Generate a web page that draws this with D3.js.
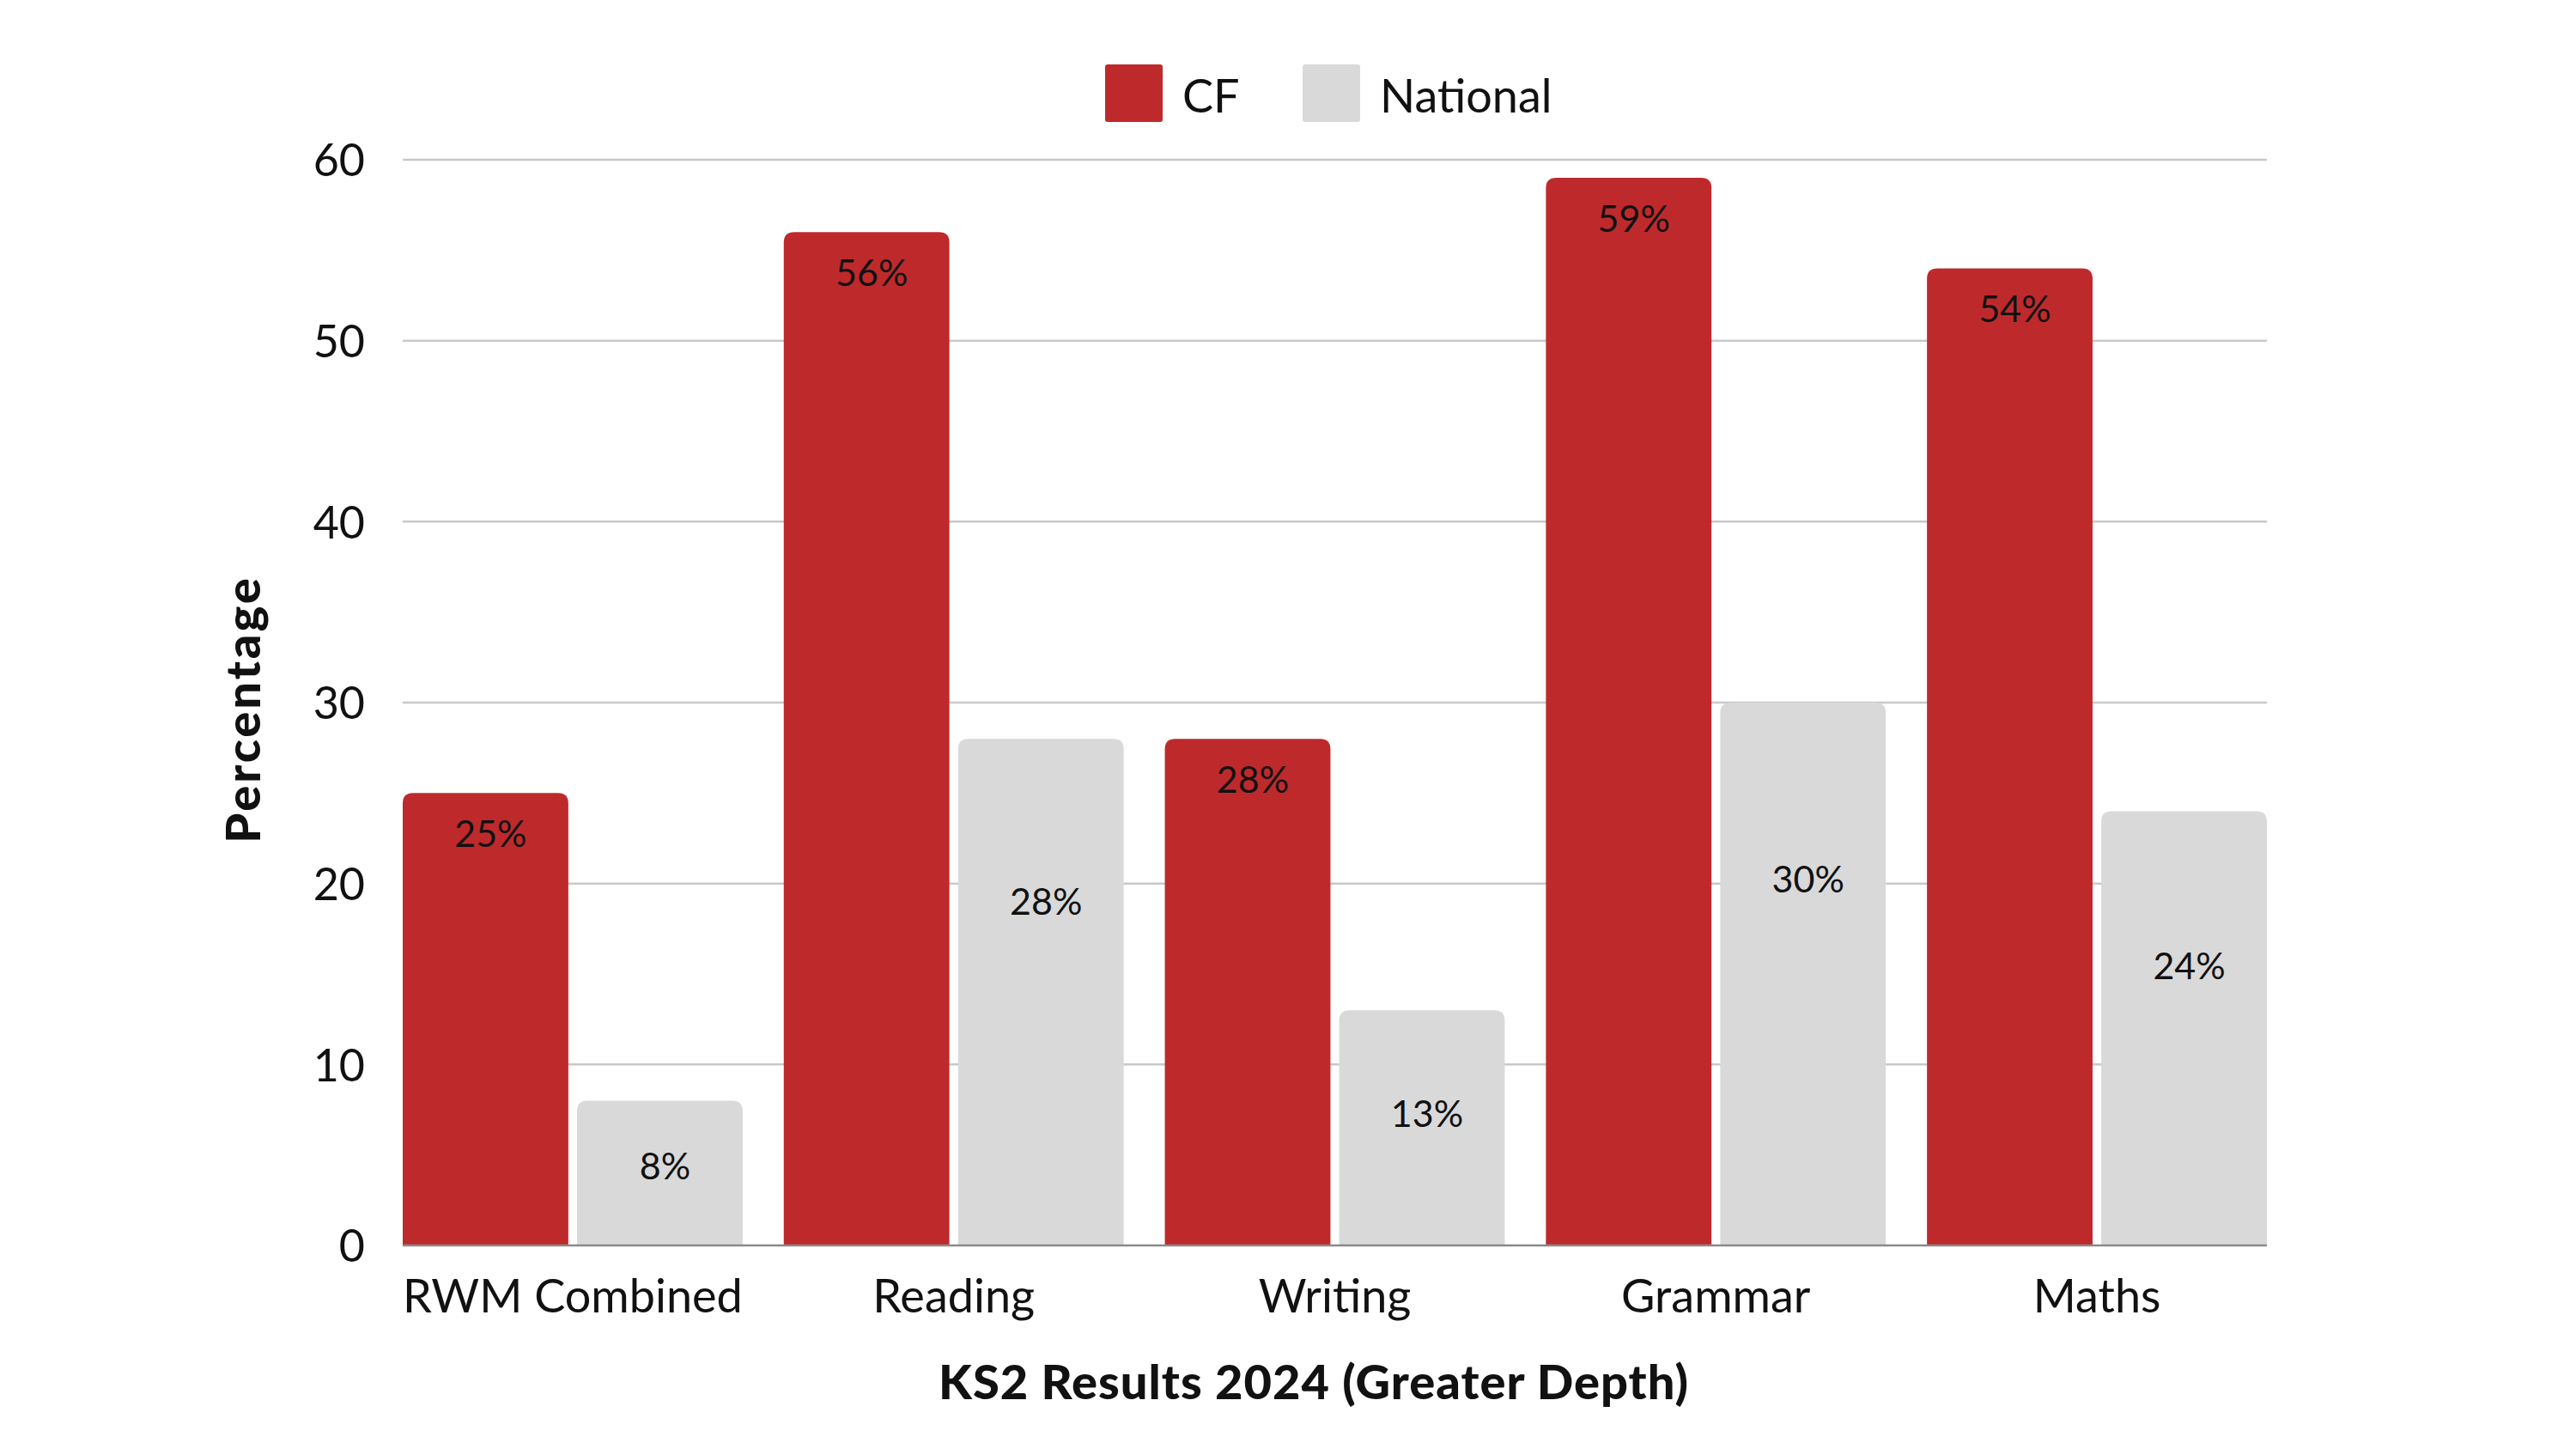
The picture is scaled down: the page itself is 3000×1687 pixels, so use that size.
<!DOCTYPE html>
<html><head><meta charset="utf-8">
<script src="https://cdn.jsdelivr.net/npm/d3@7"></script>
<style>
html,body{margin:0;padding:0;background:#fff;}
svg{display:block;font-family:Lato, "Noto Sans", sans-serif;}
</style></head>
<body><svg id="chart" width="3000" height="1687"></svg>
<script>
const categories = ["RWM Combined", "Reading", "Writing", "Grammar", "Maths"];
const seriesNames = ["CF", "National"];
const cfValues = [25, 56, 28, 59, 54];
const nationalValues = [8, 28, 13, 30, 24];
const yTicks = [0, 10, 20, 30, 40, 50, 60];
const nationalLabelAt = [4.45, 19.05, 7.35, 20.3, 15.5];
const colors = ["#BE2A2C", "#D9D9D9"];

const svg = d3.select("#chart");
const plotLeft = 469, plotRight = 2640, plotTop = 186, plotBottom = 1450;

const x0 = d3.scaleBand().domain(categories).range([plotLeft, plotRight]).paddingInner(0.108).paddingOuter(0);
const x1 = d3.scaleBand().domain(seriesNames).range([0, x0.bandwidth()]).paddingInner(0.05).paddingOuter(0);
const y = d3.scaleLinear().domain([0, 60]).range([plotBottom, plotTop]);

// gridlines
const grid = svg.append("g");
grid.selectAll("line").data(yTicks.filter(t => t > 0)).join("line")
  .attr("x1", plotLeft).attr("x2", plotRight)
  .attr("y1", d => y(d)).attr("y2", d => y(d))
  .attr("stroke", "#c9c9c9").attr("stroke-width", 2.5);

// y axis labels
const yAxis = svg.append("g").attr("transform", `translate(${plotLeft},0)`)
  .call(d3.axisLeft(y).tickValues(yTicks).tickSize(0).tickPadding(44));
yAxis.select(".domain").remove();
yAxis.selectAll("text").attr("font-size", 52).attr("fill", "#111").attr("font-family", "Lato, sans-serif").attr("dy", "0.36em");

function roundTop(xp, yp, w, h, r) {
  r = Math.min(r, h, w / 2);
  return `M${xp},${yp + h}V${yp + r}Q${xp},${yp} ${xp + r},${yp}H${xp + w - r}Q${xp + w},${yp} ${xp + w},${yp + r}V${yp + h}Z`;
}

const rows = categories.map((c, i) => ({cat: c, vals: [cfValues[i], nationalValues[i]], i}));
const groups = svg.append("g").selectAll("g").data(rows).join("g")
  .attr("transform", d => `translate(${x0(d.cat)},0)`);

groups.selectAll("path").data(d => d.vals.map((v, k) => ({v, k, s: seriesNames[k], i: d.i}))).join("path")
  .attr("d", d => roundTop(x1(d.s), y(d.v), x1.bandwidth(), y(0) - y(d.v), 12))
  .attr("fill", d => colors[d.k]);

groups.selectAll("text").data(d => d.vals.map((v, k) => ({v, k, s: seriesNames[k], i: d.i}))).join("text")
  .attr("x", d => x1(d.s) + x1.bandwidth() / 2 + 6)
  .attr("y", d => d.k === 0 ? y(d.v) + 46 : y(nationalLabelAt[d.i]))
  .attr("text-anchor", "middle").attr("dominant-baseline", "central")
  .attr("font-size", 43).attr("fill", "#111")
  .text(d => d.v + "%");

// baseline
svg.append("line").attr("x1", plotLeft).attr("x2", plotRight).attr("y1", y(0)).attr("y2", y(0))
  .attr("stroke", "#8a8a8a").attr("stroke-width", 2.5);

// x axis labels
const xAxis = svg.append("g").attr("transform", `translate(0,${plotBottom})`)
  .call(d3.axisBottom(x0).tickSize(0).tickPadding(40));
xAxis.select(".domain").remove();
xAxis.selectAll("text").attr("font-size", 54).attr("fill", "#111").attr("font-family", "Lato, sans-serif").attr("dy", "0.71em");

// axis titles
svg.append("text").attr("x", 1530).attr("y", 1607)
  .attr("text-anchor", "middle").attr("dominant-baseline", "central")
  .attr("font-size", 56).attr("font-weight", 900).attr("letter-spacing", 1).attr("fill", "#111")
  .text("KS2 Results 2024 (Greater Depth)");
svg.append("text").attr("transform", "translate(281,826) rotate(-90)")
  .attr("text-anchor", "middle").attr("dominant-baseline", "central")
  .attr("font-size", 56).attr("font-weight", 900).attr("letter-spacing", 3).attr("fill", "#111")
  .text("Percentage");

// legend
const legendX = [1287, 1517];
const leg = svg.append("g").selectAll("g").data(seriesNames).join("g")
  .attr("transform", (d, i) => `translate(${legendX[i]},75)`);
leg.append("rect").attr("width", 67).attr("height", 67).attr("rx", 3).attr("fill", (d, i) => colors[i]);
leg.append("text").attr("x", 90).attr("y", 35).attr("dominant-baseline", "central")
  .attr("font-size", 54).attr("fill", "#111").text(d => d);
</script></body></html>
